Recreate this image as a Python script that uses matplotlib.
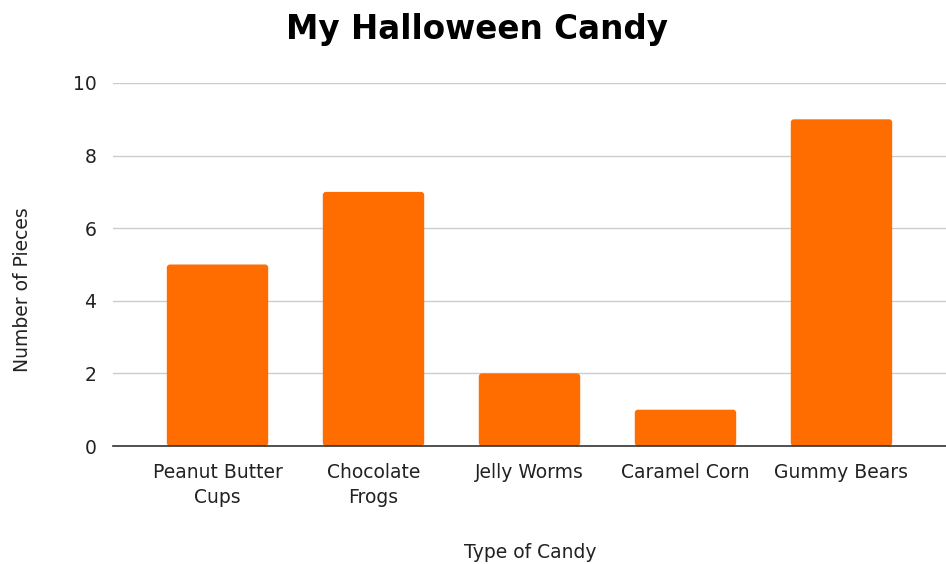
import matplotlib.pyplot as plt
from matplotlib.patches import FancyBboxPatch

#data
candy = ["Peanut Butter\nCups", "Chocolate\nFrogs", "Jelly Worms", "Caramel Corn", "Gummy Bears"]
pieces = [5, 7, 2, 1, 9]

fig = plt.figure(figsize=(9.46, 5.64), dpi=100)
ax = fig.add_axes([113/946, 1-446/564, (946-113)/946, (446-83)/564])

bars = ax.bar(range(len(candy)), pieces, width=0.65, color="#ff6d01", zorder=3)

#slightly rounded corners like the original
for b in bars:
    x, y = b.get_x(), b.get_y()
    w, h = b.get_width(), b.get_height()
    b.set_visible(False)
    ax.add_patch(FancyBboxPatch((x, y), w, h, boxstyle="round,pad=0,rounding_size=0.02",
                                mutation_aspect=10/0.67*363/833*0.67/1.0,
                                facecolor="#ff6d01", edgecolor="none", zorder=3))

ax.set_xlim(-0.67, 4.67)
ax.set_ylim(0, 10)
ax.set_yticks([0, 2, 4, 6, 8, 10])
ax.set_xticks(range(len(candy)))
ax.set_xticklabels(candy, fontsize=13.5, color="#222222", linespacing=1.45)
ax.tick_params(axis="y", labelsize=13.5, labelcolor="#222222", length=0, pad=12)
ax.tick_params(axis="x", length=0, pad=12)

ax.grid(axis="y", color="#cccccc", linewidth=1, zorder=0)
for s in ["top", "right", "left"]:
    ax.spines[s].set_visible(False)
ax.spines["bottom"].set_color("#333333")
ax.spines["bottom"].set_linewidth(1.2)
ax.spines["bottom"].set_zorder(4)

fig.text(530/946, 1-553/564, "Type of Candy", ha="center", va="center",
         fontsize=13.5, color="#222222")
fig.text(22/946, 1-290/564, "Number of Pieces", ha="center", va="center",
         rotation=90, fontsize=13.5, color="#222222")
fig.text(477/946, 1-30/564, "My Halloween Candy", ha="center", va="center",
         fontsize=23.5, fontweight="bold", color="#000000")

fig.savefig("out.png", dpi=100)
